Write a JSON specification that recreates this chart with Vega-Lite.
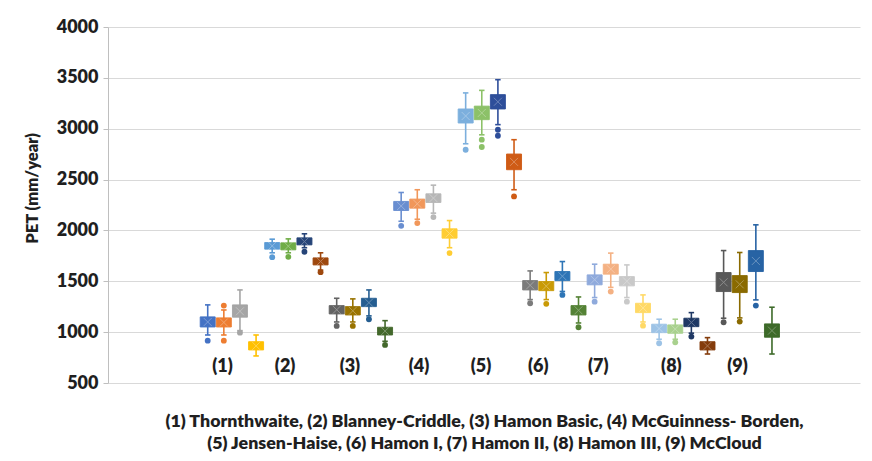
{
  "$schema": "https://vega.github.io/schema/vega-lite/v6.json",
  "width": 752,
  "height": 356,
  "autosize": {"type": "none"},
  "padding": {"left": 108, "top": 27, "right": 12, "bottom": 78},
  "background": "white",
  "view": {"stroke": null},
  "config": {
    "font": "Lato",
    "axis": {"labelFont": "Lato", "titleFont": "Lato"}
  },
  "datasets": {
    "boxes": [
      {"s": 1, "c": "#4472C4", "lo": 972, "q1": 1051, "md": 1100, "q3": 1150, "hi": 1268},
      {"s": 2, "c": "#ED7D31", "lo": 972, "q1": 1051, "md": 1095, "q3": 1140, "hi": 1218},
      {"s": 3, "c": "#A5A5A5", "lo": 1015, "q1": 1147, "md": 1205, "q3": 1268, "hi": 1415},
      {"s": 4, "c": "#FFC000", "lo": 766, "q1": 825, "md": 865, "q3": 906, "hi": 972},
      {"s": 5, "c": "#5B9BD5", "lo": 1780, "q1": 1816, "md": 1848, "q3": 1881, "hi": 1914},
      {"s": 6, "c": "#70AD47", "lo": 1780, "q1": 1809, "md": 1845, "q3": 1878, "hi": 1917},
      {"s": 7, "c": "#264478", "lo": 1830, "q1": 1858, "md": 1890, "q3": 1927, "hi": 1967},
      {"s": 8, "c": "#9E480E", "lo": 1610, "q1": 1661, "md": 1695, "q3": 1730, "hi": 1780},
      {"s": 9, "c": "#636363", "lo": 1100, "q1": 1179, "md": 1220, "q3": 1261, "hi": 1333},
      {"s": 10, "c": "#997300", "lo": 1100, "q1": 1169, "md": 1210, "q3": 1251, "hi": 1327},
      {"s": 11, "c": "#255E91", "lo": 1160, "q1": 1251, "md": 1290, "q3": 1333, "hi": 1415},
      {"s": 12, "c": "#43682B", "lo": 910, "q1": 972, "md": 1010, "q3": 1048, "hi": 1113},
      {"s": 13, "c": "#698ED0", "lo": 2090, "q1": 2196, "md": 2240, "q3": 2285, "hi": 2373},
      {"s": 14, "c": "#F1975A", "lo": 2110, "q1": 2219, "md": 2262, "q3": 2308, "hi": 2400},
      {"s": 15, "c": "#B7B7B7", "lo": 2170, "q1": 2275, "md": 2318, "q3": 2360, "hi": 2445},
      {"s": 16, "c": "#FFCD33", "lo": 1830, "q1": 1924, "md": 1970, "q3": 2016, "hi": 2097},
      {"s": 17, "c": "#7CAFDD", "lo": 2852, "q1": 3056, "md": 3125, "q3": 3194, "hi": 3352},
      {"s": 18, "c": "#8CC168", "lo": 2940, "q1": 3089, "md": 3155, "q3": 3222, "hi": 3377},
      {"s": 19, "c": "#2E4E9A", "lo": 3040, "q1": 3194, "md": 3265, "q3": 3335, "hi": 3482},
      {"s": 20, "c": "#CF5B15", "lo": 2400, "q1": 2597, "md": 2674, "q3": 2751, "hi": 2892},
      {"s": 21, "c": "#7B7B7B", "lo": 1320, "q1": 1415, "md": 1460, "q3": 1507, "hi": 1602},
      {"s": 22, "c": "#C99A06", "lo": 1320, "q1": 1408, "md": 1452, "q3": 1497, "hi": 1586},
      {"s": 23, "c": "#2E75B6", "lo": 1400, "q1": 1507, "md": 1550, "q3": 1596, "hi": 1694},
      {"s": 24, "c": "#548235", "lo": 1090, "q1": 1169, "md": 1215, "q3": 1261, "hi": 1346},
      {"s": 25, "c": "#8FAADC", "lo": 1340, "q1": 1465, "md": 1515, "q3": 1563, "hi": 1668},
      {"s": 26, "c": "#F4B183", "lo": 1440, "q1": 1570, "md": 1620, "q3": 1668, "hi": 1777},
      {"s": 27, "c": "#C9C9C9", "lo": 1340, "q1": 1455, "md": 1500, "q3": 1546, "hi": 1661},
      {"s": 28, "c": "#FFD966", "lo": 1100, "q1": 1192, "md": 1238, "q3": 1284, "hi": 1366},
      {"s": 29, "c": "#9DC3E6", "lo": 930, "q1": 995, "md": 1035, "q3": 1078, "hi": 1127},
      {"s": 30, "c": "#A9D18E", "lo": 930, "q1": 989, "md": 1030, "q3": 1071, "hi": 1127},
      {"s": 31, "c": "#1F3864", "lo": 990, "q1": 1054, "md": 1095, "q3": 1137, "hi": 1192},
      {"s": 32, "c": "#843C0C", "lo": 785, "q1": 825, "md": 865, "q3": 906, "hi": 946},
      {"s": 33, "c": "#585858", "lo": 1137, "q1": 1399, "md": 1490, "q3": 1586, "hi": 1802},
      {"s": 34, "c": "#8A6A00", "lo": 1140, "q1": 1389, "md": 1470, "q3": 1556, "hi": 1783},
      {"s": 35, "c": "#2763A4", "lo": 1317, "q1": 1596, "md": 1700, "q3": 1802, "hi": 2055},
      {"s": 36, "c": "#3D6A29", "lo": 785, "q1": 950, "md": 1015, "q3": 1081, "hi": 1245}
    ],
    "outliers": [
      {"s": 1, "c": "#4472C4", "v": 916},
      {"s": 2, "c": "#ED7D31", "v": 916},
      {"s": 2, "c": "#ED7D31", "v": 1261},
      {"s": 3, "c": "#A5A5A5", "v": 995},
      {"s": 5, "c": "#5B9BD5", "v": 1737},
      {"s": 6, "c": "#70AD47", "v": 1740},
      {"s": 7, "c": "#264478", "v": 1790},
      {"s": 8, "c": "#9E480E", "v": 1590},
      {"s": 9, "c": "#636363", "v": 1061},
      {"s": 10, "c": "#997300", "v": 1061},
      {"s": 11, "c": "#255E91", "v": 1127},
      {"s": 12, "c": "#43682B", "v": 874},
      {"s": 13, "c": "#698ED0", "v": 2045},
      {"s": 14, "c": "#F1975A", "v": 2072},
      {"s": 15, "c": "#B7B7B7", "v": 2131},
      {"s": 16, "c": "#FFCD33", "v": 1777},
      {"s": 17, "c": "#7CAFDD", "v": 2793},
      {"s": 18, "c": "#8CC168", "v": 2892},
      {"s": 18, "c": "#8CC168", "v": 2820},
      {"s": 19, "c": "#2E4E9A", "v": 2990},
      {"s": 19, "c": "#2E4E9A", "v": 2931},
      {"s": 20, "c": "#CF5B15", "v": 2334},
      {"s": 21, "c": "#7B7B7B", "v": 1284},
      {"s": 22, "c": "#C99A06", "v": 1278},
      {"s": 23, "c": "#2E75B6", "v": 1366},
      {"s": 24, "c": "#548235", "v": 1048},
      {"s": 25, "c": "#8FAADC", "v": 1300},
      {"s": 26, "c": "#F4B183", "v": 1399},
      {"s": 27, "c": "#C9C9C9", "v": 1300},
      {"s": 28, "c": "#FFD966", "v": 1064},
      {"s": 29, "c": "#9DC3E6", "v": 891},
      {"s": 30, "c": "#A9D18E", "v": 900},
      {"s": 31, "c": "#1F3864", "v": 956},
      {"s": 33, "c": "#585858", "v": 1097},
      {"s": 34, "c": "#8A6A00", "v": 1104},
      {"s": 35, "c": "#2763A4", "v": 1261}
    ],
    "labels": [
      {"t": "(1)", "x": 1.92, "y": 655},
      {"t": "(2)", "x": 5.80, "y": 655},
      {"t": "(3)", "x": 9.82, "y": 655},
      {"t": "(4)", "x": 14.10, "y": 655},
      {"t": "(5)", "x": 17.95, "y": 655},
      {"t": "(6)", "x": 21.50, "y": 655},
      {"t": "(7)", "x": 25.23, "y": 655},
      {"t": "(8)", "x": 29.76, "y": 655},
      {"t": "(9)", "x": 33.86, "y": 655}
    ]
  },
  "encoding": {
    "x": {
      "type": "quantitative",
      "scale": {"domain": [-4.875, 41.15], "nice": false, "zero": false},
      "axis": {
        "labels": false, "ticks": false, "domain": false, "grid": false,
        "title": ["(1) Thornthwaite, (2) Blanney-Criddle, (3) Hamon Basic, (4) McGuinness- Borden,", "(5) Jensen-Haise, (6) Hamon I, (7) Hamon II, (8) Hamon III, (9) McCloud"],
        "titleFontSize": 17.8, "titleFontWeight": 800, "titleColor": "#1f1f1f",
        "titleLineHeight": 22, "titlePadding": 29
      }
    }
  },
  "layer": [
    {
      "data": {"name": "boxes"},
      "mark": {"type": "rule", "strokeWidth": 1.6},
      "encoding": {
        "x": {"field": "s", "type": "quantitative"},
        "y": {
          "field": "lo", "type": "quantitative",
          "scale": {"domain": [500, 4000], "nice": false, "zero": false},
          "axis": {
            "values": [500, 1000, 1500, 2000, 2500, 3000, 3500, 4000],
            "format": "d",
            "grid": true, "gridColor": "#d9d9d9", "gridWidth": 1,
            "domain": true, "domainColor": "#bfbfbf",
            "ticks": true, "tickColor": "#bfbfbf", "tickSize": 5,
            "labelFontSize": 18, "labelFontWeight": 800, "labelColor": "#1f1f1f", "labelPadding": 5,
            "title": "PET (mm/year)", "titleFontSize": 16.5, "titleFontWeight": 800, "titleColor": "#1f1f1f",
            "titleX": -68, "titleY": 161
          }
        },
        "y2": {"field": "hi"},
        "color": {"field": "c", "type": "nominal", "scale": null}
      }
    },
    {
      "data": {"name": "boxes"},
      "mark": {"type": "point", "shape": "M-1,0L1,0", "filled": false, "size": 30, "strokeWidth": 1.6, "opacity": 1},
      "encoding": {
        "x": {"field": "s", "type": "quantitative"},
        "y": {"field": "lo", "type": "quantitative"},
        "color": {"field": "c", "type": "nominal", "scale": null}
      }
    },
    {
      "data": {"name": "boxes"},
      "mark": {"type": "point", "shape": "M-1,0L1,0", "filled": false, "size": 30, "strokeWidth": 1.6, "opacity": 1},
      "encoding": {
        "x": {"field": "s", "type": "quantitative"},
        "y": {"field": "hi", "type": "quantitative"},
        "color": {"field": "c", "type": "nominal", "scale": null}
      }
    },
    {
      "data": {"name": "boxes"},
      "mark": {"type": "bar", "size": 15, "strokeWidth": 1, "strokeOpacity": 0.9},
      "encoding": {
        "x": {"field": "s", "type": "quantitative"},
        "y": {"field": "q1", "type": "quantitative"},
        "y2": {"field": "q3"},
        "fill": {"field": "c", "type": "nominal", "scale": null},
        "stroke": {"field": "c", "type": "nominal", "scale": null}
      }
    },
    {
      "data": {"name": "boxes"},
      "mark": {"type": "point", "shape": "M-1,-1L1,1M-1,1L1,-1", "filled": false, "size": 64, "strokeWidth": 1, "color": "white", "opacity": 0.3},
      "encoding": {
        "x": {"field": "s", "type": "quantitative"},
        "y": {"field": "md", "type": "quantitative"}
      }
    },
    {
      "data": {"name": "outliers"},
      "mark": {"type": "point", "shape": "circle", "filled": true, "size": 34, "opacity": 1},
      "encoding": {
        "x": {"field": "s", "type": "quantitative"},
        "y": {"field": "v", "type": "quantitative"},
        "color": {"field": "c", "type": "nominal", "scale": null}
      }
    },
    {
      "data": {"name": "labels"},
      "mark": {"type": "text", "fontSize": 18, "fontWeight": 800, "color": "#1f1f1f", "baseline": "middle", "align": "center"},
      "encoding": {
        "x": {"field": "x", "type": "quantitative"},
        "y": {"field": "y", "type": "quantitative"},
        "text": {"field": "t", "type": "nominal"}
      }
    }
  ]
}
